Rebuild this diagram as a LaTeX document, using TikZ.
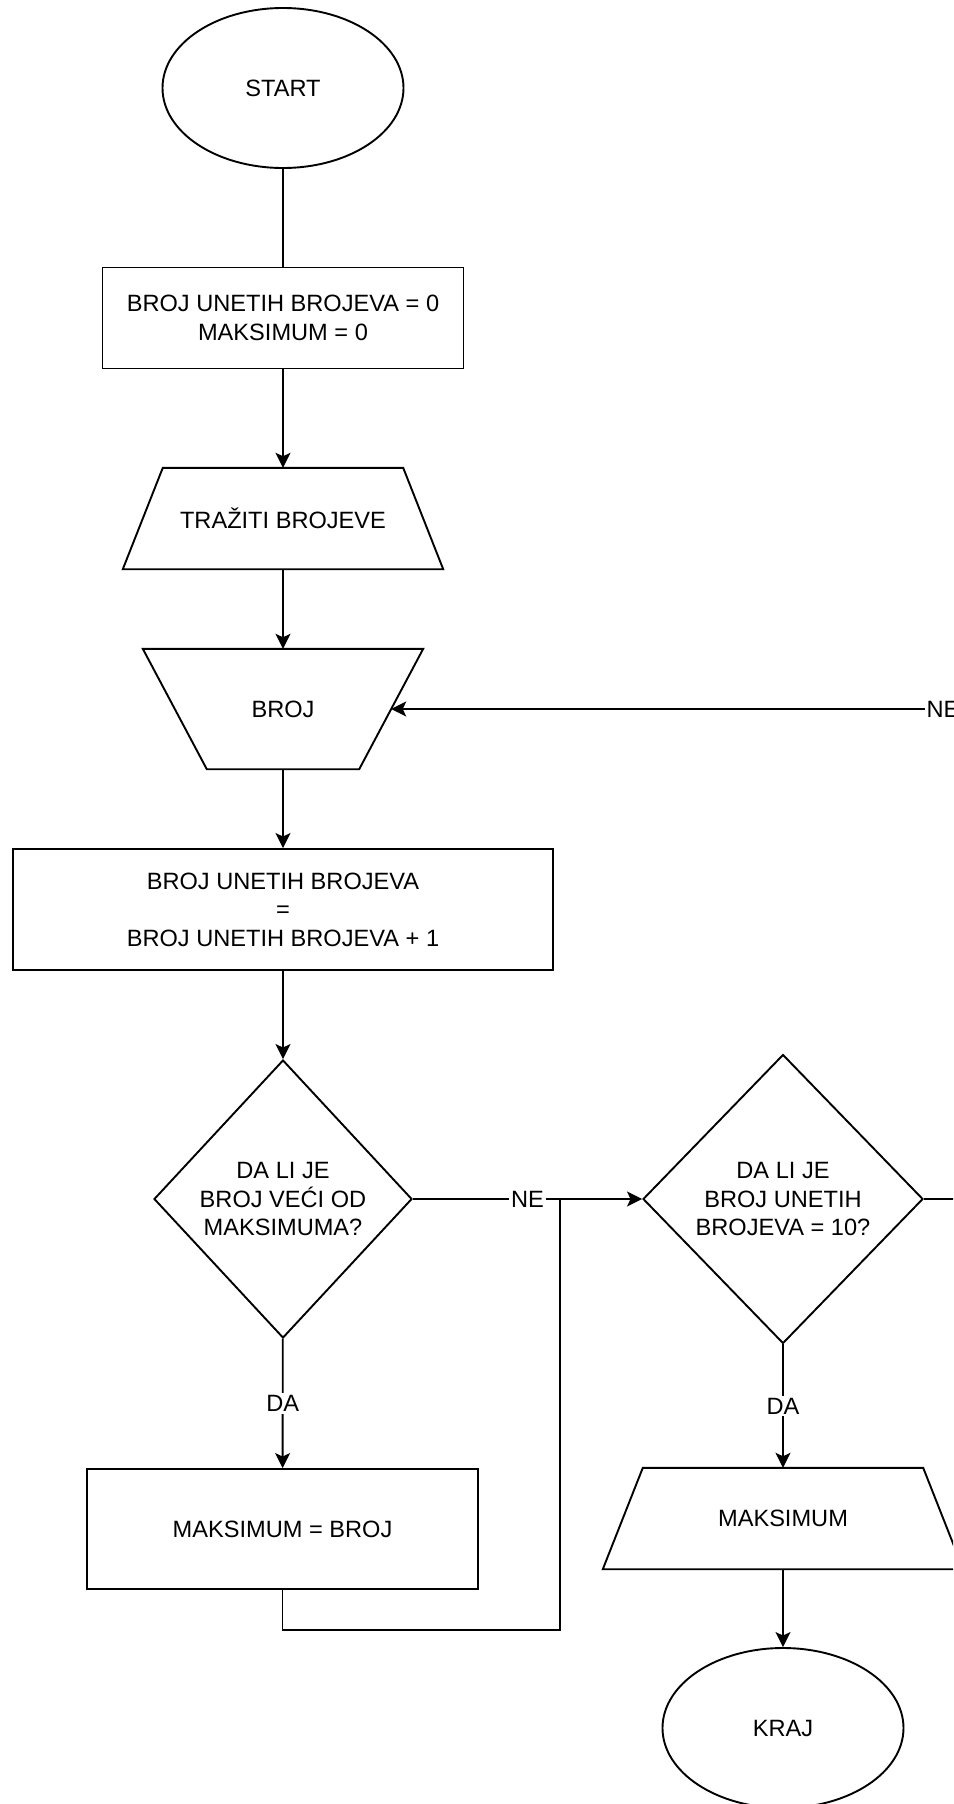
\documentclass[tikz,border=0pt]{standalone}
\usepackage{fontspec}
\setmainfont{Liberation Sans}
\usetikzlibrary{shapes.geometric,arrows.meta,calc}
\begin{document}
\begin{tikzpicture}[x=1pt,y=-1pt,
  every node/.style={font=\fontsize{23.6}{28.6}\selectfont, text=black},
  line/.style={line width=1.9pt, draw=black},
  flow/.style={line, -{Stealth[length=15pt,width=15pt,inset=3.5pt]}},
  term/.style={ellipse, line, minimum width=241pt, minimum height=160pt, inner sep=0pt},
  proc/.style={rectangle, line, inner sep=0pt, align=center},
  dec/.style={diamond, line, inner sep=0pt},
  box/.style={rectangle, inner sep=0pt, align=center},
  edgelabel/.style={fill=white, inner sep=2pt},
]
\useasboundingbox (0,0) rectangle (953,1804);
\clip (0,0) rectangle (953,1804);

% start / end terminals
\node[term] (start) at (283,88) {START};
\node[term] (kraj) at (783,1728) {KRAJ};

% initialisation
\node[proc, minimum width=361pt, minimum height=101pt] (init) at (283,318)
  {BROJ UNETIH BROJEVA = 0\\MAKSIMUM = 0};

% prompt (trapezium, wide at the bottom)
\node[box, minimum width=320pt, minimum height=101pt] (ask) at (283,518.5) {TRAŽITI BROJEVE};
\draw[line] (ask.south west) -- ([xshift=40pt]ask.north west)
  -- ([xshift=-40pt]ask.north east) -- (ask.south east) -- cycle;

% manual input (trapezium, wide at the top)
\node[box, minimum width=280pt, minimum height=120pt] (broj) at (283,709) {BROJ};
\draw[line] (broj.north west) -- (broj.north east)
  -- ([xshift=-64pt]broj.south east) -- ([xshift=64pt]broj.south west) -- cycle;
\coordinate (brojin) at ([xshift=-32pt]broj.east);

% counter increment
\node[proc, minimum width=540pt, minimum height=121pt] (inc) at (283,909.5)
  {BROJ UNETIH BROJEVA\\=\\BROJ UNETIH BROJEVA + 1};

% first decision
\node[dec, minimum width=258pt, minimum height=278pt] (d1) at (283,1199) {};
\node[box] (d1txt) at (283,1199) {DA LI JE\\BROJ VEĆI OD\\MAKSIMUMA?};

% new maximum
\node[proc, minimum width=391pt, minimum height=120pt] (setmax) at (282.5,1529) {MAKSIMUM = BROJ};

% second decision
\node[dec, minimum width=280pt, minimum height=289pt] (d2) at (783,1199) {};
\node[box] (d2txt) at (783,1199) {DA LI JE\\BROJ UNETIH\\BROJEVA = 10?};

% output (trapezium, wide at the bottom)
\node[box, minimum width=360pt, minimum height=101pt] (out) at (783,1518.5) {MAKSIMUM};
\draw[line] (out.south west) -- ([xshift=40pt]out.north west)
  -- ([xshift=-40pt]out.north east) -- (out.south east) -- cycle;

% connectors
\draw[line] (start) -- (init);
\draw[flow] (init) -- (ask);
\draw[flow] (ask) -- (broj);
\draw[flow] (broj) -- (inc);
\draw[flow] (inc) -- (d1);
\draw[flow] (d1) -- node[edgelabel] {DA} (setmax);
\draw[flow] (d1) -- node[edgelabel] {NE} (d2);
\coordinate (join) at (560,1199);
\draw[line] (setmax.south) -- ++(0,40) -| (join);
\draw[flow] (d2) -- node[edgelabel] {DA} (out);
\draw[flow] (out) -- (kraj);
% loop back to the input when fewer than ten numbers were read
\draw[flow] (d2.east) -- ++(42,0) |- node[edgelabel, pos=0.52] {NE} (brojin);
\end{tikzpicture}
\end{document}
